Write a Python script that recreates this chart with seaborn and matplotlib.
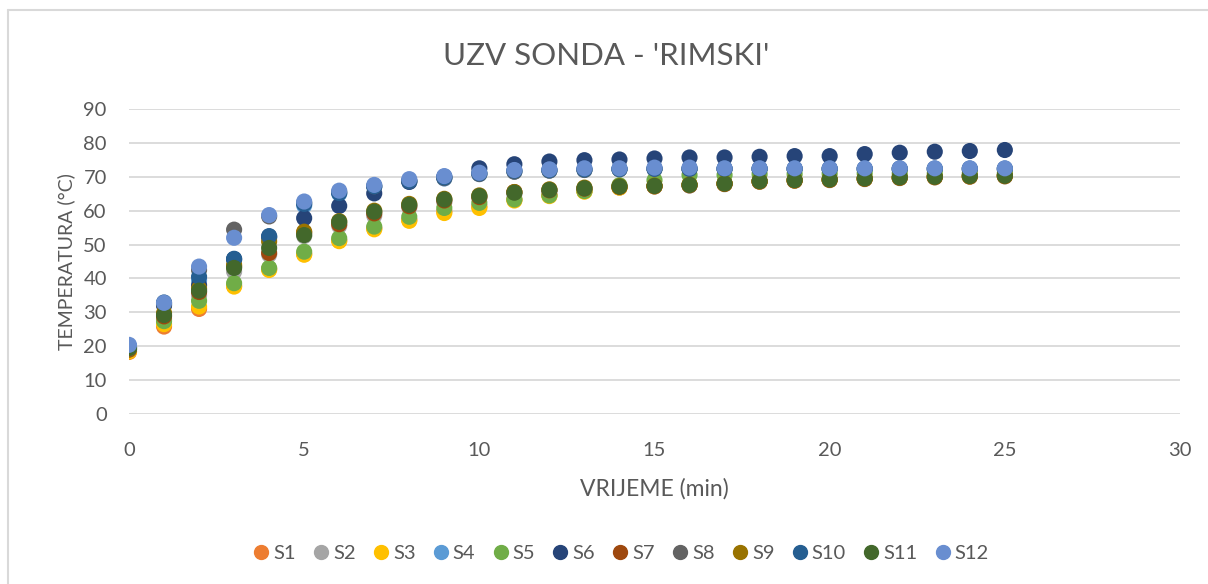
import numpy as np
import pandas as pd
import matplotlib
matplotlib.use("Agg")
import matplotlib.pyplot as plt
import matplotlib.lines as mlines
import seaborn as sns

# time (min)
vrijeme = list(range(26))

s1 = [18.3, 25.8, 31.0, 37.8, 42.8, 47.2, 51.2, 54.8, 57.3, 59.8, 61.3, 63.3, 64.6,
      65.8, 66.9, 67.2, 67.5, 67.9, 68.6, 68.9, 69.1, 69.4, 69.7, 69.9, 70.1, 70.2]
s2 = [19.0, 28.0, 35.0, 42.0, 47.0, 52.5, 55.5, 58.5, 61.0, 62.5, 63.8, 64.8, 65.8,
      66.3, 66.8, 67.1, 67.4, 67.8, 68.5, 68.8, 69.0, 69.3, 69.6, 69.8, 70.0, 70.1]
s3 = [18.5, 26.5, 31.7, 37.6, 42.5, 47.0, 51.0, 54.5, 57.0, 59.3, 60.8, 63.0, 64.3,
      65.6, 66.8, 67.2, 67.6, 67.9, 68.6, 68.9, 69.1, 69.4, 69.7, 69.9, 70.1, 70.2]
s4 = [19.8, 32.3, 39.5, 45.5, 52.0, 61.5, 65.0, 67.0, 68.5, 69.5, 70.8, 71.5, 71.8,
      72.0, 72.2, 72.3, 72.3, 72.3, 72.3, 72.3, 72.3, 72.3, 72.3, 72.3, 72.3, 72.3]
s5 = [19.0, 27.4, 33.4, 38.6, 43.1, 47.9, 51.9, 55.3, 58.2, 60.8, 62.3, 63.3, 64.5,
      65.8, 67.5, 69.0, 70.5, 70.5, 70.8, 70.8, 70.9, 71.0, 71.0, 71.0, 71.0, 71.0]
s6 = [19.5, 32.0, 38.0, 45.7, 52.3, 57.8, 61.4, 65.1, 68.5, 70.0, 72.5, 73.7, 74.5,
      74.9, 75.1, 75.4, 75.7, 75.7, 75.9, 76.1, 76.1, 76.7, 77.1, 77.4, 77.6, 77.9]
s7 = [19.0, 28.8, 36.0, 43.5, 47.5, 53.5, 56.0, 59.2, 61.3, 63.0, 64.0, 65.5, 66.0,
      66.5, 67.0, 67.2, 67.5, 67.9, 68.6, 68.9, 69.1, 69.4, 69.7, 69.9, 70.1, 70.2]
s8 = [19.8, 32.5, 42.5, 54.4, 58.3, 62.3, 65.5, 67.2, 68.8, 69.6, 70.8, 71.5, 71.8,
      72.0, 72.2, 72.3, 72.3, 72.3, 72.3, 72.3, 72.3, 72.3, 72.3, 72.3, 72.3, 72.3]
s9 = [19.3, 29.8, 37.0, 44.0, 50.9, 53.8, 56.9, 60.0, 62.0, 63.5, 64.5, 65.5, 66.3,
      66.8, 67.2, 67.4, 67.7, 68.1, 68.8, 69.1, 69.3, 69.6, 69.9, 70.1, 70.3, 70.4]
s10 = [19.5, 32.9, 40.5, 45.8, 52.5, 62.0, 65.2, 67.2, 68.8, 69.8, 71.0, 71.8, 72.0,
       72.2, 72.3, 72.4, 72.4, 72.4, 72.4, 72.4, 72.4, 72.4, 72.4, 72.4, 72.4, 72.4]
s11 = [19.5, 29.2, 36.4, 43.1, 49.0, 52.8, 56.7, 59.7, 61.7, 63.3, 64.3, 65.3, 66.1,
       66.6, 67.1, 67.3, 67.6, 68.0, 68.7, 69.0, 69.2, 69.5, 69.8, 70.0, 70.2, 70.3]
s12 = [20.4, 32.8, 43.5, 52.0, 58.7, 62.7, 65.9, 67.6, 69.3, 70.2, 71.2, 72.0, 72.2,
       72.5, 72.5, 72.7, 72.7, 72.5, 72.5, 72.5, 72.5, 72.5, 72.5, 72.5, 72.5, 72.5]

serije = ["S1", "S2", "S3", "S4", "S5", "S6", "S7", "S8", "S9", "S10", "S11", "S12"]
boje = ["#ED7D31", "#A5A5A5", "#FFC000", "#5B9BD5", "#70AD47", "#264478",
        "#9E480E", "#636363", "#997300", "#255E91", "#43682B", "#698ED0"]

vals = [s1, s2, s3, s4, s5, s6, s7, s8, s9, s10, s11, s12]
df = pd.concat(
    [pd.DataFrame({"t": vrijeme, "temp": v, "serija": name}) for name, v in zip(serije, vals)],
    ignore_index=True,
)

sns.set_theme(style="white")
plt.rcParams["font.family"] = ["Lato", "DejaVu Sans"]
txt = "#595959"

fig = plt.figure(figsize=(12.08, 5.84), dpi=100)
ax = fig.add_axes([129 / 1208, 1 - 414 / 584, 1051 / 1208, 305 / 584])

sns.scatterplot(data=df, x="t", y="temp", hue="serija", palette=dict(zip(serije, boje)),
                s=135, linewidth=0, alpha=1, legend=False, ax=ax, zorder=3)

ax.set_xlim(0, 30)
ax.set_ylim(0, 90)
ax.set_xticks(range(0, 31, 5))
ax.set_yticks(range(0, 91, 10))
ax.yaxis.grid(True, color="#D9D9D9", lw=1.3)
ax.xaxis.grid(False)
for sp in ax.spines.values():
    sp.set_visible(False)
ax.tick_params(axis="both", length=0, labelsize=14.5, colors=txt)
ax.tick_params(axis="x", pad=20)
ax.tick_params(axis="y", pad=16)
ax.set_xlabel("VRIJEME (min)", fontsize=16.5, color=txt, labelpad=14)
ax.set_ylabel("TEMPERATURA (°C)", fontsize=14, color=txt, labelpad=6)
ax.set_clip_on(False)

fig.text(606 / 1208, 1 - 56 / 584, "UZV SONDA - 'RIMSKI'", ha="center", va="center",
         fontsize=22.5, color=txt)

handles = [mlines.Line2D([], [], marker="o", ls="", color=c, markersize=10, label=n)
           for n, c in zip(serije, boje)]
fig.legend(handles=handles, loc="center", bbox_to_anchor=(620 / 1208, 1 - 553 / 584),
           ncol=12, frameon=False, fontsize=14.5, handletextpad=0.1, columnspacing=0.75,
           labelcolor=txt, handlelength=1.0)

# chart area border (top and left visible)
fig.add_artist(mlines.Line2D([8 / 1208, 8 / 1208], [0, 1 - 10 / 584], color="#D9D9D9", lw=1.5,
                             transform=fig.transFigure))
fig.add_artist(mlines.Line2D([8 / 1208, 1], [1 - 10 / 584, 1 - 10 / 584], color="#D9D9D9", lw=1.5,
                             transform=fig.transFigure))

plt.savefig("out.png", dpi=100)
plt.close()
